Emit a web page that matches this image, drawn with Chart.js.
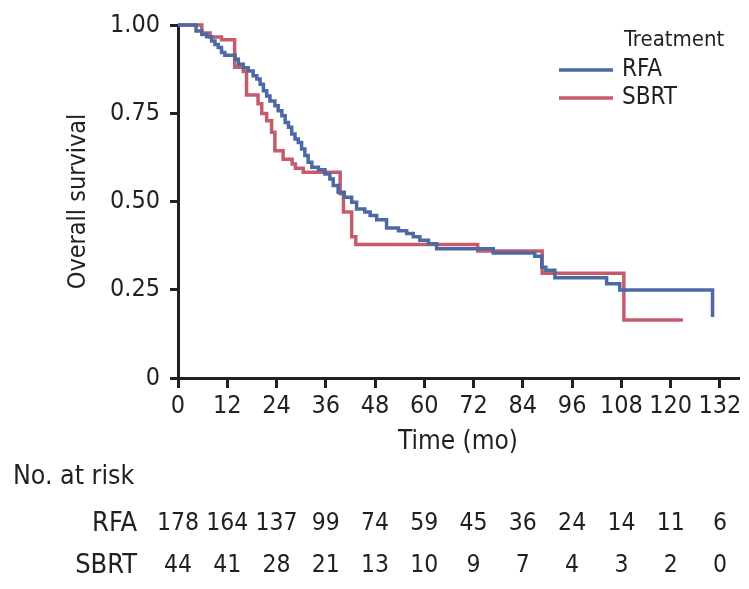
<!DOCTYPE html>
<html><head><meta charset="utf-8">
<script src="https://cdn.jsdelivr.net/npm/chart.js@4.4.0/dist/chart.umd.min.js"></script>
<style>html,body{margin:0;padding:0;background:#fff;}#wrap{width:749px;height:589px;position:relative;}</style>
</head><body><div id="wrap"><canvas id="c" width="749" height="589"></canvas></div>
<script>
// ---- data ----
const seriesNames = ['RFA', 'SBRT'];
const rfaTime = [0,4.4,5.8,7.0,8.2,9.0,9.8,10.6,11.4,13.9,14.7,15.9,17.1,18.3,19.2,20.0,20.8,21.6,22.4,23.6,24.4,25.3,26.1,26.9,27.7,28.5,29.3,30.1,30.9,31.7,32.6,34.2,35.8,37.0,37.8,39.0,40.5,42.3,43.5,45.5,46.8,48.4,50.8,53.7,55.7,57.3,58.9,61.0,63.0,76.8,86.9,88.6,89.6,91.8,104.4,107.6,130.2];
const rfaSurv = [1.0,0.983,0.973,0.967,0.955,0.945,0.936,0.922,0.914,0.903,0.889,0.879,0.870,0.856,0.847,0.832,0.814,0.799,0.785,0.771,0.757,0.743,0.724,0.710,0.691,0.677,0.667,0.649,0.630,0.611,0.597,0.590,0.578,0.564,0.545,0.526,0.512,0.498,0.479,0.470,0.460,0.448,0.425,0.417,0.409,0.400,0.390,0.380,0.366,0.354,0.345,0.314,0.305,0.284,0.267,0.249,0.173];
const sbrtTime = [0,5.8,7.8,10.6,13.8,15.9,16.7,19.5,20.4,21.6,22.8,23.6,25.6,27.8,28.6,30.5,39.5,40.3,42.3,43.3,73.0,88.7,108.6,123.0];
const sbrtSurv = [1.0,0.977,0.966,0.958,0.880,0.868,0.802,0.777,0.749,0.729,0.696,0.644,0.620,0.606,0.594,0.583,0.522,0.470,0.400,0.378,0.360,0.297,0.164,0.164];
const riskTimes = [0,12,24,36,48,60,72,84,96,108,120,132];
const rfaRisk = [178,164,137,99,74,59,45,36,24,14,11,6];
const sbrtRisk = [44,41,28,21,13,10,9,7,4,3,2,0];
const yTicks = [0,0.25,0.5,0.75,1];

// ---- styles ----
const FONT = '"Liberation Sans Narrow","DejaVu Sans Condensed",Roboto,sans-serif';
const INK = '#231f20';
const BLUE = '#4d69a3';
const RED = '#c65c6b';

const toPts = (t, s) => t.map((v, i) => ({x: v, y: s[i]}));

const legendPlugin = {
  id: 'kmLegend',
  afterDraw(chart) {
    const ctx = chart.ctx;
    ctx.save();
    ctx.fillStyle = INK;
    ctx.textBaseline = 'middle';
    ctx.textAlign = 'left';
    ctx.font = '22px ' + FONT;
    ctx.fillText('Treatment', 624, 40);
    ctx.font = '24px ' + FONT;
    chart.data.datasets.forEach((ds, i) => {
      const y = 70 + i * 28;
      ctx.strokeStyle = ds.borderColor;
      ctx.lineWidth = 3.5;
      ctx.beginPath(); ctx.moveTo(559, y); ctx.lineTo(613, y); ctx.stroke();
      ctx.fillStyle = INK;
      ctx.fillText(ds.label, 622, y);
    });
    ctx.restore();
  }
};

const riskPlugin = {
  id: 'riskTable',
  afterDraw(chart) {
    const ctx = chart.ctx, xs = chart.scales.x;
    ctx.save();
    ctx.fillStyle = INK;
    ctx.textBaseline = 'middle';
    ctx.textAlign = 'left';
    ctx.font = '26.5px ' + FONT;
    ctx.fillText('No. at risk', 13, 477);
    const rows = [[seriesNames[0], rfaRisk, 524], [seriesNames[1], sbrtRisk, 566]];
    rows.forEach(([name, vals, y]) => {
      ctx.font = '27px ' + FONT;
      ctx.textAlign = 'right';
      ctx.fillText(name, 137, y);
      ctx.font = '24.5px ' + FONT;
      ctx.textAlign = 'center';
      vals.forEach((v, i) => ctx.fillText(String(v), xs.getPixelForValue(riskTimes[i]), y));
    });
    ctx.restore();
  }
};

new Chart(document.getElementById('c'), {
  type: 'line',
  data: {
    datasets: [
      {label: seriesNames[0], data: toPts(rfaTime, rfaSurv), borderColor: BLUE, borderWidth: 3.5, stepped: 'before', pointRadius: 0, fill: false, clip: 6},
      {label: seriesNames[1], data: toPts(sbrtTime, sbrtSurv), borderColor: RED, borderWidth: 3.5, stepped: 'before', pointRadius: 0, fill: false, clip: 6}
    ]
  },
  options: {
    responsive: false,
    animation: false,
    devicePixelRatio: 1,
    layout: {padding: {left: 0, top: 24, right: 11, bottom: 131}},
    plugins: {legend: {display: false}, tooltip: {enabled: false}},
    scales: {
      x: {
        type: 'linear', min: 0, max: 136.4,
        afterBuildTicks: s => { s.ticks = riskTimes.map(v => ({value: v})); },
        afterFit: s => { s.height = 80; },
        ticks: {color: INK, font: {family: FONT, size: 25}, padding: 3, maxRotation: 0, autoSkip: false, callback: v => String(v)},
        grid: {drawOnChartArea: false, drawTicks: true, tickLength: 10, color: INK, lineWidth: 3},
        border: {display: true, color: INK, width: 3},
        title: {display: true, text: 'Time (mo)', color: INK, font: {family: FONT, size: 26}, padding: 0}
      },
      y: {
        min: 0, max: 1,
        afterBuildTicks: s => { s.ticks = yTicks.map(v => ({value: v})); },
        afterFit: s => { s.width = 178; },
        ticks: {color: INK, font: {family: FONT, size: 25}, padding: 10, callback: v => v === 0 ? '0' : v.toFixed(2)},
        grid: {drawOnChartArea: false, drawTicks: true, tickLength: 8, color: INK, lineWidth: 3},
        border: {display: true, color: INK, width: 3},
        title: {display: true, text: 'Overall survival', color: INK, font: {family: FONT, size: 25}, padding: {top: 63, bottom: 0}}
      }
    }
  },
  plugins: [legendPlugin, riskPlugin]
});
</script></body></html>
